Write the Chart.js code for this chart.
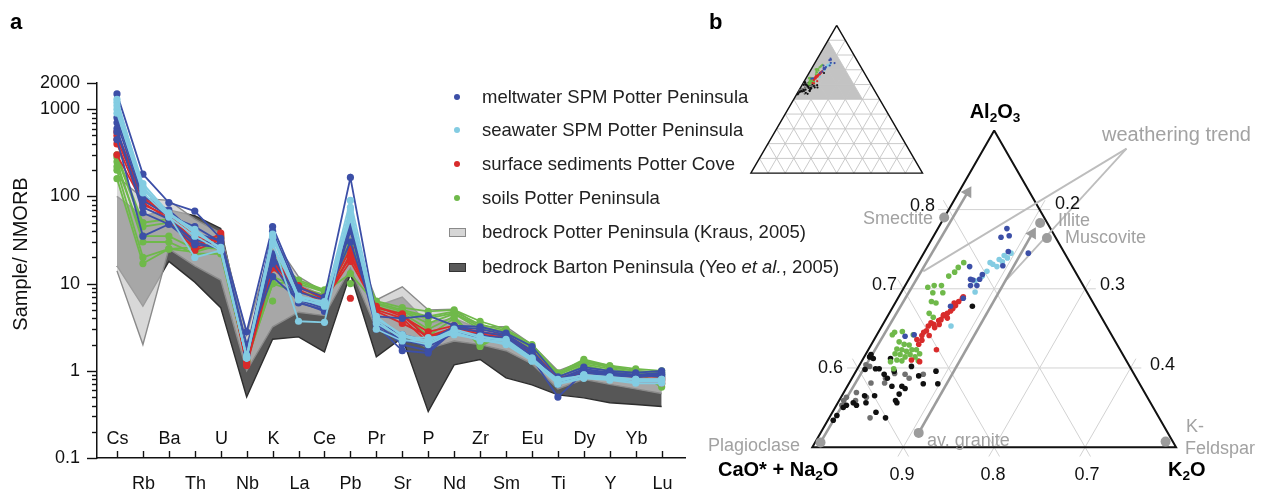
<!DOCTYPE html>
<html>
<head>
<meta charset="utf-8">
<script src="https://cdn.jsdelivr.net/npm/chart.js@4.4.1/dist/chart.umd.min.js"></script>
<style>
	html, body { margin: 0; padding: 0; background: #fff; }
	#wrap { position: relative; width: 1264px; height: 494px; overflow: hidden; font-family: "Liberation Sans", Arial, sans-serif; color: #1a1a1a; }
	#wrap canvas { position: absolute; top: 0; }
	.t { position: absolute; white-space: nowrap; line-height: 1; }
	.t sub { font-size: 0.68em; vertical-align: -0.32em; line-height: 0; }
	.panel { font-size: 22px; font-weight: bold; color: #000; }
	.vtx { font-size: 20px; font-weight: bold; color: #000; }
	.num { font-size: 18px; color: #111; }
	.min { font-size: 18px; color: #a2a2a2; }
	.wt { font-size: 20px; color: #a2a2a2; }
	.leg { font-size: 18.5px; color: #222; }
	.mark { position: absolute; box-sizing: border-box; }
</style>
</head>
<body>
<div id="wrap">
	<canvas id="spider" width="700" height="494" style="left:0"></canvas>
	<canvas id="tern" width="564" height="494" style="left:700px"></canvas>
	<div id="overlay"></div>
</div>
<script>
// ---- panel a: spider diagram, sample / NMORB ----
const elements = ['Cs','Rb','Ba','Th','U','Nb','K','La','Ce','Pb','Pr','Sr','P','Nd','Zr','Sm','Eu','Ti','Dy','Y','Yb','Lu'];
const yTickLabels = [0.1, 1, 10, 100, 1000, 2000];

const meltwaterSPM = [
	[1500, 180, 85, 68, 33, 2.8, 45, 9, 7, 165, 4.2, 4.0, 4.3, 3.3, 3.2, 2.7, 1.9, 0.85, 1.1, 1.0, 0.95, 1.0],
	[700, 90, 60, 45, 30, 1.6, 40, 8, 6.5, 30, 3.8, 2.2, 2.0, 3.1, 2.8, 2.5, 1.6, 0.8, 1.05, 0.95, 0.9, 0.95],
	[600, 65, 48, 32, 28, 1.5, 20, 7, 5.5, 50, 3.5, 2.0, 1.7, 3.0, 2.3, 2.3, 1.4, 0.5, 0.95, 0.9, 0.85, 0.9],
	[450, 35, 48, 28, 26, 1.5, 17, 6, 5, 40, 3.3, 1.7, 1.6, 2.9, 2.5, 2.4, 1.5, 0.75, 1.0, 0.92, 0.88, 0.92],
	[800, 100, 70, 38, 31, 2.0, 12, 6.5, 5.2, 60, 3.6, 2.6, 2.2, 3.2, 3.0, 2.6, 1.7, 0.78, 1.0, 0.95, 0.9, 0.85],
	[550, 75, 55, 30, 25, 1.4, 22, 6.2, 4.8, 45, 3.0, 2.3, 1.9, 2.7, 2.6, 2.2, 1.5, 0.7, 0.95, 0.88, 0.85, 0.88]
];
const seawaterSPM = [
	[1200, 140, 65, 40, 25, 1.4, 37, 7, 6, 90, 4.2, 2.5, 2.1, 2.9, 2.4, 2.3, 1.4, 0.75, 0.9, 0.85, 0.8, 0.8],
	[1000, 120, 60, 20, 24, 1.4, 30, 3.7, 3.6, 70, 3.0, 2.2, 2.3, 2.7, 2.3, 2.2, 1.3, 0.72, 0.85, 0.8, 0.75, 0.75],
	[1100, 130, 62, 38, 26, 1.5, 34, 6.5, 5.8, 55, 3.8, 2.3, 2.0, 2.8, 2.2, 2.1, 1.35, 0.8, 0.88, 0.82, 0.78, 0.78],
	[900, 110, 58, 35, 24, 1.4, 28, 6.8, 5.5, 75, 3.5, 2.4, 2.4, 2.6, 2.3, 2.0, 1.3, 0.7, 0.82, 0.78, 0.72, 0.72],
	[1300, 125, 63, 42, 25, 1.45, 35, 7.2, 6.2, 60, 4.0, 2.6, 2.2, 3.0, 2.5, 2.2, 1.4, 0.76, 0.9, 0.84, 0.8, 0.8]
];
const sedimentsPC = [
	[550, 100, 65, 25, 38, 1.2, 18, 9.5, 6.5, 18, 5.3, 4.5, 2.3, 3.2, 2.8, 2.5, 1.6, 0.8, 1.0, 0.85, 0.8, 0.8],
	[400, 80, 60, 35, 30, 1.15, 15, 8.5, 6, 22, 5.0, 4.0, 2.1, 3.0, 2.6, 2.4, 1.5, 0.75, 0.95, 0.8, 0.78, 0.75],
	[300, 85, 55, 24, 32, 1.3, 20, 9, 6.8, 25, 4.8, 3.5, 2.5, 3.1, 2.5, 2.3, 1.45, 0.78, 0.92, 0.82, 0.75, 0.72],
	[450, 90, 62, 30, 36, 1.25, 16, 9.2, 7, 20, 5.5, 4.2, 2.8, 3.3, 2.7, 2.6, 1.7, 0.82, 1.0, 0.88, 0.82, 0.82],
	[500, 95, 63, 28, 34, 1.2, 17, 9, null, 6.8, null, 4.3, 2.4, 3.1, 2.6, 2.4, 1.55, 0.8, 0.97, 0.84, 0.8, 0.78]
];
const soilsPP = [
	[300, 50, 55, 30, 35, 1.3, 20, 11, 8.5, 30, 6.3, 5.3, 4.8, 5.0, 3.7, 3.0, 2.0, 0.95, 1.35, 1.15, 1.05, 1.0],
	[250, 30, 30, 22, 22, 1.3, 10, 8, 7, 25, 5.5, 4.5, 2.5, 4.0, 1.9, 2.7, 1.5, 0.8, 1.0, 0.95, 0.85, 0.7],
	[200, 20, 25, 23, 28, null, 6.3, null, null, 10, null, 4.8, 3.5, 4.5, 3.0, 2.8, 1.8, 0.9, 1.2, 1.05, 0.95, 0.9],
	[160, 17, 25, 26, 25, 1.25, 12, 9, 7.5, 20, 6.0, 5.0, 4.2, 4.8, 3.4, 2.9, 1.9, 0.9, 1.25, 1.1, 1.0, 0.95],
	[280, 45, 50, 28, 33, 1.3, 16, 10, 8, 13, 5.8, 4.8, 4.0, 4.6, 3.2, 2.8, 1.85, 0.92, 1.3, 1.1, 1.0, 0.65],
	[220, 35, 35, 25, 26, 1.3, 10, 10.5, 8.2, 27, 5.2, 4.6, 3.0, 4.2, 2.0, 2.6, 1.7, 0.85, 1.15, 1.0, 0.9, 0.85]
];
// bedrock envelopes
const potterUpper = [170, 95, 90, 55, 38, 2.6, 33, 12, 8, 40, 6.5, 9.2, 5, 5.1, 3.2, 3.2, 2.0, 1.0, 1.3, 1.15, 1.0, 0.95];
const potterLower = [14, 2.0, 25, 16, 11, 1.0, 3.2, 4.7, 4.3, 15, 3.0, 2.6, 1.8, 2.2, 2.0, 1.7, 1.2, 0.62, 0.8, 0.7, 0.62, 0.55];
const bartonUpper = [100, 60, 70, 60, 43, 2.0, 25, 10, 7, 35, 5.5, 7.0, 3.5, 4.0, 3.0, 2.8, 1.8, 0.82, 1.1, 1.0, 0.9, 0.85];
const bartonLower = [16, 5.5, 18, 10.4, 5.3, 0.5, 2.3, 2.45, 1.65, 13, 1.45, 2.4, 0.34, 1.17, 1.35, 0.83, 0.69, 0.53, 0.49, 0.43, 0.41, 0.39];

// ---- panel b: A-CN-K ternary, pairs [Al2O3, K2O] (CaO*+Na2O = 1 - A - K) ----
const soilsAK = [[0.727,0.047],[0.721,0.046],[0.716,0.042],[0.704,0.040],[0.704,0.032],[0.702,0.026],[0.695,0.035],[0.695,0.046],[0.684,0.039],[0.682,0.045],[0.669,0.044],[0.664,0.051],[0.642,0.017],[0.646,0.026],[0.642,0.040],[0.633,0.029],[0.630,0.036],[0.629,0.042],[0.624,0.031],[0.623,0.037],[0.621,0.043],[0.623,0.048],[0.623,0.053],[0.618,0.032],[0.617,0.038],[0.614,0.045],[0.617,0.049],[0.614,0.056],[0.610,0.038],[0.609,0.044],[0.609,0.062],[0.599,0.040],[0.618,0.059],[0.608,0.032],[0.733,0.050],[0.645,0.018]];
const sedimentsAK = [[0.636,0.047],[0.641,0.050],[0.647,0.052],[0.653,0.051],[0.655,0.056],[0.660,0.059],[0.661,0.061],[0.667,0.061],[0.669,0.064],[0.675,0.067],[0.679,0.068],[0.684,0.069],[0.690,0.071],[0.688,0.071],[0.651,0.059],[0.655,0.062],[0.663,0.067],[0.635,0.053],[0.630,0.052],[0.623,0.075],[0.610,0.054],[0.608,0.064],[0.645,0.050],[0.657,0.052],[0.666,0.061],[0.682,0.065],[0.641,0.058],[0.672,0.066]];
const meltwaterAK = [[0.776,0.076],[0.767,0.083],[0.765,0.075],[0.747,0.092],[0.745,0.115],[0.729,0.095],[0.728,0.059],[0.718,0.078],[0.712,0.078],[0.712,0.068],[0.704,0.072],[0.704,0.079],[0.688,0.072],[0.678,0.063],[0.642,0.041],[0.640,0.032],[0.711,0.071]];
const seawaterAK = [[0.733,0.079],[0.731,0.083],[0.728,0.089],[0.734,0.092],[0.739,0.095],[0.722,0.081],[0.716,0.079],[0.710,0.074],[0.696,0.081],[0.653,0.076],[0.737,0.087],[0.742,0.090],[0.745,0.096]];
const bedrockBlackAK = [[0.678,0.087],[0.614,0.006],[0.612,0.011],[0.612,0.030],[0.598,0.009],[0.599,0.020],[0.592,0.033],[0.587,0.039],[0.596,0.042],[0.577,0.049],[0.577,0.060],[0.567,0.062],[0.574,0.065],[0.580,0.082],[0.596,0.088],[0.580,0.098],[0.565,0.036],[0.565,0.025],[0.556,0.017],[0.553,0.022],[0.550,0.009],[0.540,0.007],[0.534,0.006],[0.544,0.048],[0.556,0.065],[0.599,0.024],[0.617,0.006],[0.602,0.058],[0.537,0.062],[0.559,0.062],[0.553,0.011],[0.556,0.031],[0.590,0.072]];
const bedrockGrayAK = [[0.604,0.007],[0.602,0.012],[0.581,0.039],[0.587,0.037],[0.592,0.056],[0.587,0.063],[0.592,0.076],[0.569,0.014],[0.563,0.006],[0.559,0.005],[0.559,0.018],[0.563,0.028],[0.537,0.045],[0.581,0.024],[0.593,0.044],[0.553,0.006]];

// reference minerals [Al2O3, K2O]
const minerals = { smectite: [0.79, 0.0], illite: [0.783, 0.109], muscovite: [0.764, 0.126], plagioclase: [0.506, 0.006], avGranite: [0.518, 0.108], kFeldspar: [0.507, 0.385] };

const colors = {
	meltwater: '#3c4fa7',
	seawater: '#83cce2',
	sediments: '#d82b2b',
	soils: '#6fb94a',
	potterFill: 'rgba(200,200,200,0.71)', potterLine: '#8a8a8a',
	bartonFill: '#575757', bartonLine: '#2e2e2e',
	black: '#111111', gray: '#707070', annot: '#9c9c9c', leader: '#bdbdbd', grid: '#d2d2d2'
};

// ---------- chart a ----------
const toPts = vals => vals.map((v, i) => ({ x: i, y: v }));
const spiderSets = [];
spiderSets.push({ data: toPts(bartonUpper), borderColor: colors.bartonLine, borderWidth: 1.4, pointRadius: 0, fill: '+1', backgroundColor: colors.bartonFill });
spiderSets.push({ data: toPts(bartonLower), borderColor: colors.bartonLine, borderWidth: 1.4, pointRadius: 0, fill: false });
spiderSets.push({ data: toPts(potterUpper), borderColor: colors.potterLine, borderWidth: 1.4, pointRadius: 0, fill: '+1', backgroundColor: colors.potterFill });
spiderSets.push({ data: toPts(potterLower), borderColor: colors.potterLine, borderWidth: 1.4, pointRadius: 0, fill: false });
[[soilsPP, colors.soils], [sedimentsPC, colors.sediments], [meltwaterSPM, colors.meltwater], [seawaterSPM, colors.seawater]].forEach(([rows, c]) => {
	rows.forEach(r => spiderSets.push({ data: toPts(r), borderColor: c, borderWidth: 1.8, pointRadius: 3.6, pointBackgroundColor: c, pointBorderWidth: 0, fill: false, spanGaps: false }));
});
spiderSets.forEach((d, i) => { d.order = spiderSets.length - i; });

const spiderAxes = {
	id: 'spiderAxes',
	afterDraw(chart) {
		const { ctx, scales: { x, y } } = chart;
		const x0 = x.left, y0 = y.bottom;
		ctx.save();
		ctx.strokeStyle = '#111';
		ctx.lineWidth = 1.4;
		for (let d = -1; d <= 3; d++) {
			for (let m = 1; m <= 9; m++) {
				const v = m * Math.pow(10, d);
				if (v > 2000.0001) continue;
				const py = Math.round(y.getPixelForValue(v)) + 0.5;
				const len = (m === 1 || v === 2000) ? 10 : 5;
				ctx.beginPath(); ctx.moveTo(x0 - len, py); ctx.lineTo(x0, py); ctx.stroke();
			}
		}
		ctx.font = '18px "Liberation Sans", Arial, sans-serif';
		ctx.fillStyle = '#111';
		ctx.textAlign = 'center';
		ctx.textBaseline = 'middle';
		elements.forEach((el, i) => {
			const px = Math.round(x.getPixelForValue(i)) + 0.5;
			ctx.beginPath(); ctx.moveTo(px, y0); ctx.lineTo(px, y0 - 7); ctx.stroke();
			ctx.fillText(el, px, i % 2 === 0 ? y0 - 19 : y0 + 26);
		});
		ctx.translate(21, 254);
		ctx.rotate(-Math.PI / 2);
		ctx.font = '20px "Liberation Sans", Arial, sans-serif';
		ctx.fillText('Sample/ NMORB', 0, 0);
		ctx.restore();
	}
};

new Chart(document.getElementById('spider'), {
	type: 'line',
	data: { datasets: spiderSets },
	options: {
		responsive: false,
		animation: false,
		events: [],
		layout: { padding: { top: 83, right: 15, left: 0, bottom: 0 } },
		plugins: { legend: { display: false }, tooltip: { enabled: false } },
		scales: {
			x: {
				type: 'linear', min: -0.77, max: 21.9,
				ticks: { display: false },
				grid: { display: false, drawTicks: false },
				border: { color: '#111', width: 1.5 },
				afterFit: s => { s.height = 36; }
			},
			y: {
				type: 'logarithmic', min: 0.1, max: 2000,
				ticks: {
					autoSkip: false,
					padding: 17,
					color: '#111',
					font: { size: 18, family: '"Liberation Sans", Arial, sans-serif' },
					callback: v => {
						const hit = yTickLabels.find(t => Math.abs(v - t) / t < 1e-6);
						return hit !== undefined ? String(hit) : '';
					}
				},
				grid: { display: false, drawTicks: false },
				border: { color: '#111', width: 1.5 },
				afterFit: s => { s.width = 97; }
			}
		}
	},
	plugins: [spiderAxes]
});

// ---------- chart b ----------
// main (zoomed) triangle: A 0.5-0.9, CN >= 0.1 ; inset: full ternary
const mainXY = (A, K) => {
	const as = (A - 0.5) / 0.4, ks = K / 0.4;
	return { x: 808 + (ks + as / 2) * 373, y: 453 - as * 326 };
};
const miniXY = (A, K) => ({ x: 745 + (K + A / 2) * 176, y: 171 - A * 152 });

const ternSets = [];
const addLine = (pts, color, width, extra) => ternSets.push(Object.assign({ data: pts, showLine: true, borderColor: color, borderWidth: width, pointRadius: 0, fill: false }, extra || {}));
const addDots = (pts, color, r, extra) => ternSets.push(Object.assign({ data: pts, showLine: false, backgroundColor: color, pointBackgroundColor: color, pointBorderWidth: 0, pointRadius: r }, extra || {}));

// inset
addLine([[0.9, 0], [0.5, 0.4], [0.5, 0], [0.9, 0]].map(p => miniXY(p[0], p[1])), 'rgba(0,0,0,0)', 0, { fill: 'shape', backgroundColor: '#c3c3c3' });
for (let i = 1; i <= 9; i++) {
	const f = i / 10;
	addLine([miniXY(f, 0), miniXY(f, 1 - f)], '#c4c4c4', 0.9);
	addLine([miniXY(0, f), miniXY(1 - f, f)], '#c4c4c4', 0.9);
	addLine([miniXY(0, 1 - f), miniXY(1 - f, 0)], '#c4c4c4', 0.9);
}
addLine([miniXY(1, 0), miniXY(0, 0), miniXY(0, 1), miniXY(1, 0)], '#111', 1.4);
[[bedrockGrayAK, colors.gray], [bedrockBlackAK, colors.black], [soilsAK, colors.soils], [sedimentsAK, colors.sediments], [seawaterAK, colors.seawater], [meltwaterAK, colors.meltwater]].forEach(([rows, c]) => {
	addDots(rows.map(p => miniXY(p[0], p[1])), c, 1.1);
});

// main triangle grid (lines run a little past the edges)
const e = 0.0118;
[0.6, 0.7, 0.8].forEach(A => addLine([mainXY(A, -e), mainXY(A, 0.9 - A + e)], colors.grid, 1));
[0.1, 0.2, 0.3].forEach(K => addLine([mainXY(0.5 - e, K), mainXY(0.9 - K + e, K)], colors.grid, 1));
[0.2, 0.3, 0.4].forEach(CN => addLine([mainXY(0.5 - e, 0.5 - CN + e), mainXY(1 - CN + e, -e)], colors.grid, 1));
addLine([mainXY(0.9, 0), mainXY(0.5, 0), mainXY(0.5, 0.4), mainXY(0.9, 0)], '#111', 2);

// weathering trend arrows and leaders
const trendLabel = [0.877, 0.157];
addLine([mainXY(...trendLabel), mainXY(0.722, 0.011)], colors.leader, 1.8);
addLine([mainXY(...trendLabel), mainXY(0.712, 0.108)], colors.leader, 1.8);
const arrows = [[minerals.plagioclase, [0.822, 0.010]], [minerals.avGranite, [0.770, 0.107]]];
arrows.forEach(([from, to]) => {
	const p0 = mainXY(...from), p1 = mainXY(...to);
	addLine([p0, p1], colors.annot, 2.6);
	const rot = Math.atan2(p1.x - p0.x, p0.y - p1.y) * 180 / Math.PI;
	addDots([p1], colors.annot, 7, { pointStyle: 'triangle', pointRotation: rot });
});
addDots(Object.values(minerals).map(p => mainXY(p[0], p[1])), colors.annot, 5);

[[bedrockGrayAK, colors.gray], [bedrockBlackAK, colors.black], [soilsAK, colors.soils], [sedimentsAK, colors.sediments], [seawaterAK, colors.seawater], [meltwaterAK, colors.meltwater]].forEach(([rows, c]) => {
	addDots(rows.map(p => mainXY(p[0], p[1])), c, 2.8);
});
ternSets.forEach((d, i) => { d.order = ternSets.length - i; });

new Chart(document.getElementById('tern'), {
	type: 'scatter',
	data: { datasets: ternSets },
	options: {
		responsive: false,
		animation: false,
		events: [],
		layout: { padding: 0 },
		plugins: { legend: { display: false }, tooltip: { enabled: false } },
		scales: {
			x: { type: 'linear', min: 700, max: 1264, display: false },
			y: { type: 'linear', min: 0, max: 494, reverse: true, display: false }
		}
	}
});

// ---------- text and legend ----------
const overlay = document.getElementById('overlay');
const textLabels = [
	['a', 10, 22, 'l', 'panel'],
	['b', 709, 22, 'l', 'panel'],
	['Al<sub>2</sub>O<sub>3</sub>', 995, 111, 'c', 'vtx'],
	['CaO* + Na<sub>2</sub>O', 718, 469, 'l', 'vtx'],
	['K<sub>2</sub>O', 1168, 469, 'l', 'vtx'],
	['0.8', 935, 205, 'r', 'num'], ['0.7', 897, 284, 'r', 'num'], ['0.6', 843, 367, 'r', 'num'],
	['0.2', 1055, 203, 'l', 'num'], ['0.3', 1100, 284, 'l', 'num'], ['0.4', 1150, 364, 'l', 'num'],
	['0.9', 902, 474, 'c', 'num'], ['0.8', 993, 474, 'c', 'num'], ['0.7', 1087, 474, 'c', 'num'],
	['weathering trend', 1102, 134, 'l', 'wt'],
	['Smectite', 933, 218, 'r', 'min'], ['Illite', 1058, 220, 'l', 'min'], ['Muscovite', 1065, 237, 'l', 'min'],
	['Plagioclase', 708, 445, 'l', 'min'], ['av. granite', 927, 440, 'l', 'min'],
	['K-', 1186, 426, 'l', 'min'], ['Feldspar', 1185, 448, 'l', 'min']
];
const shift = { l: '0', c: '-50%', r: '-100%' };
textLabels.forEach(([html, x, y, al, cls]) => {
	const d = document.createElement('div');
	d.className = 't ' + cls;
	d.innerHTML = html;
	d.style.left = x + 'px';
	d.style.top = y + 'px';
	d.style.transform = `translate(${shift[al]}, -50%)`;
	overlay.appendChild(d);
});

const legendItems = [
	{ html: 'meltwater SPM Potter Peninsula', kind: 'dot', fill: colors.meltwater },
	{ html: 'seawater SPM Potter Peninsula', kind: 'dot', fill: colors.seawater },
	{ html: 'surface sediments Potter Cove', kind: 'dot', fill: colors.sediments },
	{ html: 'soils Potter Peninsula', kind: 'dot', fill: colors.soils },
	{ html: 'bedrock Potter Peninsula (Kraus, 2005)', kind: 'box', fill: '#d6d6d6', line: colors.potterLine },
	{ html: 'bedrock Barton Peninsula (Yeo <i>et al.</i>, 2005)', kind: 'box', fill: '#5a5a5a', line: '#333' }
];
const legendRows = [97, 130, 164, 198, 232, 267];
legendItems.forEach((item, i) => {
	const cy = legendRows[i];
	const m = document.createElement('div');
	m.className = 'mark';
	if (item.kind === 'dot') {
		Object.assign(m.style, { left: '454px', top: (cy - 3) + 'px', width: '6px', height: '6px', borderRadius: '50%', background: item.fill });
	} else {
		Object.assign(m.style, { left: '449px', top: (cy - 4) + 'px', width: '17px', height: '9px', background: item.fill, border: '1px solid ' + item.line });
	}
	overlay.appendChild(m);
	const t = document.createElement('div');
	t.className = 't leg';
	t.innerHTML = item.html;
	t.style.left = '482px';
	t.style.top = cy + 'px';
	t.style.transform = 'translate(0, -50%)';
	overlay.appendChild(t);
});
</script>
</body>
</html>
